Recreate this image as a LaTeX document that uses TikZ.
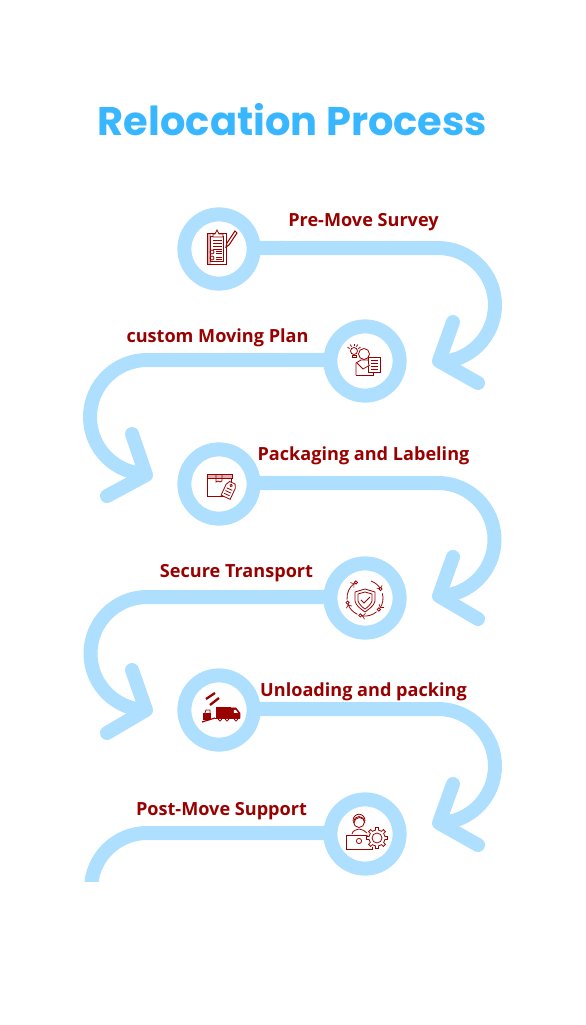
\documentclass[tikz,border=0pt]{standalone}
\usepackage{fontspec}
\setmainfont{Open Sans}
\newfontfamily\titlefont{Poppins}
\usetikzlibrary{positioning}
\definecolor{flowblue}{HTML}{AEDFFF}
\definecolor{titleblue}{HTML}{38B6FF}
\definecolor{labelred}{HTML}{990000}
\tikzset{
    stopring/.style={circle, draw=flowblue, fill=white, line width=7.97pt, minimum size=1.385cm, inner sep=0pt, outer sep=0pt},
    flow/.style={draw=flowblue, line width=7.97pt},
    flowhead/.style={draw=flowblue, line width=7.97pt, line cap=round, line join=round},
    steplabel/.style={text=labelred, font=\bfseries\fontsize{10.3}{12}\selectfont},
    icon/.style={draw=labelred, line width=0.45pt},
    iconfill/.style={fill=labelred, draw=labelred, line width=0.3pt},
}

\begin{document}
\begin{tikzpicture}[x=0.1cm,y=0.1cm,scale=0.2,yscale=-1]
    \useasboundingbox (0,0) rectangle (585,1025);

    \node[text=titleblue, font=\titlefont\bfseries\fontsize{22.75}{26}\selectfont] (title) at (292.5,120) {Relocation Process};

    % Stops
    \node[stopring] (survey) at (219,249) {};
    \node[stopring] (plan) at (365,361) {};
    \node[stopring] (packaging) at (219,484) {};
    \node[stopring] (transport) at (365,598) {};
    \node[stopring] (unloading) at (219,710) {};
    \node[stopring] (support) at (365,834) {};

    % Arrow tips
    \coordinate (tipA) at (439,361);
    \coordinate (tipB) at (146,475);
    \coordinate (tipC) at (439,596);
    \coordinate (tipD) at (146,710);
    \coordinate (tipE) at (439,823);

    % Right hand bends
    \draw[flow] (survey.east) ++(0,-1) -- (438,248) arc[start angle=-90, end angle=90, radius=57];
    \draw[flowhead] (453,322) -- (tipA) -- (478,383);

    \draw[flow] (packaging.east) ++(0,-1) -- (438,483) arc[start angle=-90, end angle=90, radius=56.5];
    \draw[flowhead] (453,557) -- (tipC) -- (478,619);

    \draw[flow] (unloading.east) ++(0,-1) -- (438,709) arc[start angle=-90, end angle=90, radius=57];
    \draw[flowhead] (453,784) -- (tipE) -- (478,845);

    % Left hand bends
    \draw[flow] (plan.west) ++(0,-1) -- (147,360) arc[start angle=-90, end angle=-270, radius=57];
    \draw[flowhead] (132,434) -- (tipB) -- (107,496);

    \draw[flow] (transport.west) ++(0,-1) -- (147,597) arc[start angle=-90, end angle=-270, radius=56.5];
    \draw[flowhead] (132,670) -- (tipD) -- (107,733);

    % Open end at the bottom
    \begin{scope}
        \clip (0,0) rectangle (585,881);
        \draw[flow] (support.west) ++(0,-1) -- (147,833) arc[start angle=-90, end angle=-180, radius=56];
    \end{scope}

    % Labels
    \node[steplabel] (surveytext) at (363.5,222) {Pre-Move Survey};
    \node[steplabel] (plantext) at (217.5,338) {custom Moving Plan};
    \node[steplabel] (packagingtext) at (363.5,456) {Packaging and Labeling};
    \node[steplabel] (transporttext) at (236.5,573) {Secure Transport};
    \node[steplabel] (unloadingtext) at (363.5,692) {Unloading and packing};
    \node[steplabel] (supporttext) at (221.5,811) {Post-Move Support};

    % Clipboard
    \begin{scope}[shift={(survey.center)}]
        \fill[labelred!30] (-12,-16) rectangle (-8,15);
        \draw[icon] (-12,-16) rectangle (7,15);
        \draw[icon] (-9,-13) rectangle (4,12);
        \draw[icon, fill=white] (-6,-15) -- (-4,-15) -- (-2,-19) -- (0,-15) -- (4,-15) -- (4,-12) -- (-6,-12) -- cycle;
        \foreach \yy in {-9,-6,-3,0} \draw[icon] (-6,\yy) -- (3,\yy);
        \foreach \yy in {3,9} {
            \draw[icon] (-7,\yy) circle (2);
            \draw[icon] (-3,\yy-1) -- (3,\yy-1);
            \draw[icon] (-3,\yy+1) -- (3,\yy+1);
        }
        \draw[icon, fill=white, line width=0.6pt] (8,-6) -- (16,-18) -- (18,-16) -- (10,-4) -- (7,-2) -- cycle;
    \end{scope}

    % Person with idea and paper
    \begin{scope}[shift={(plan.center)}]
        \draw[icon] (-11,-10) circle (3.5);
        \draw[icon] (-13,-6) -- (-9,-6) -- (-9,-4) -- (-13,-4) -- cycle;
        \foreach \ang in {-150,-120,-90,-60,-30} \draw[icon] (-11,-10) ++(\ang:5) -- ++(\ang:2.5);
        \draw[icon] (-1,-7) circle (5.5);
        \draw[icon] (-9,14) -- (-9,2) -- (-4,-1) -- (3,-1) -- (6,2);
        \draw[icon] (-9,14) -- (8,14) -- (8,10);
        \draw[icon, fill=white] (3,-4) rectangle (15,11);
        \foreach \yy in {-1,2,5,8} \draw[icon] (6,\yy) -- (13,\yy);
        \draw[icon, fill=white] (-8,2) -- (-2,8) -- (5,4);
    \end{scope}

    % Box with tag
    \begin{scope}[shift={(packaging.center)}]
        \fill[labelred!30] (-12,-10) rectangle (13,-6);
        \draw[icon] (-12,-10) rectangle (13,-6);
        \draw[icon] (-12,-6) -- (-12,12) -- (8,12);
        \draw[icon] (12,-6) -- (12,0);
        \draw[icon] (-3,-10) -- (-3,-2) -- (-1,-3) -- (1,-2) -- (3,-3) -- (3,-10);
        \begin{scope}[shift={(10,6)}, rotate=25]
            \draw[icon, fill=white] (-3,-8) -- (3,-8) -- (5,-4) -- (5,8) -- (-5,8) -- (-5,-4) -- cycle;
            \draw[icon] (0,-5) circle (1.2);
            \foreach \yy in {-1,2,5} \draw[icon] (-3,\yy) -- (3,\yy);
        \end{scope}
    \end{scope}

    % Shield in a cycle
    \begin{scope}[shift={(transport.center)}]
        \foreach \sa/\ea in {-70/-28,-15/35,50/100,115/160,175/235}
            \draw[icon, ->] (\sa:18) arc[start angle=\sa, end angle=\ea, radius=18];
        \foreach \ang in {-30,40,105,165,240}
            \draw[icon, fill=white] (\ang:18) circle (1.6);
        \draw[icon] (0,-9) -- (-10,-6) -- (-10,3) .. controls (-9,8) and (-4,11) .. (0,14) .. controls (4,11) and (9,8) .. (10,3) -- (10,-6) -- cycle;
        \draw[icon] (0,-6) -- (-7,-4) -- (-7,3) .. controls (-6,6) and (-3,9) .. (0,11) .. controls (3,9) and (6,6) .. (7,3) -- (7,-4) -- cycle;
        \draw[icon, line width=0.6pt] (-4,2) -- (-1,5) -- (5,-1);
    \end{scope}

    % Truck and forklift
    \begin{scope}[shift={(unloading.center)}]
        \draw[labelred, line width=1.3pt] (-13,-11) -- (-4,-17);
        \draw[labelred, line width=1.3pt] (-9,-5) -- (0,-12);
        \fill[iconfill] (-3,-3) rectangle (11,7);
        \fill[iconfill] (12,-2) -- (17,-2) -- (21,3) -- (21,8) -- (12,8) -- cycle;
        \fill[white] (15,0) -- (17,0) -- (19,3) -- (15,3) -- cycle;
        \fill[iconfill] (-16,3) rectangle (-9,9);
        \draw[icon] (-14,3) -- (-13,0) -- (-9,0) -- (-9,3);
        \draw[labelred, line width=0.7pt] (-17,12) -- (-4,8);
        \draw[labelred, line width=0.7pt] (-4,8.5) -- (21,8.5);
        \foreach \xx in {1,8,17} \draw[icon, fill=white] (\xx,9.5) circle (1.6);
    \end{scope}

    % Agent with gear
    \begin{scope}[shift={(support.center)}]
        \draw[icon] (-6,-12) circle (5.5);
        \draw[icon] (-11,-11) arc[start angle=180, end angle=360, radius=5.5];
        \draw[icon] (-12,-13) .. controls (-12,-22) and (0,-22) .. (0,-13);
        \draw[icon] (-13,0) .. controls (-12,-4) and (-9,-4) .. (-6,-5) .. controls (-3,-4) and (0,-4) .. (2,-1);
        \draw[icon] (-19,1) rectangle (7,15);
        \draw[icon] (-6,7) circle (2.6);
        \begin{scope}[shift={(12,4)}]
            \fill[white] (0,0) circle (10);
            \foreach \tooth in {0,45,...,315}
                \draw[icon] (\tooth-22.5:8) -- (\tooth-11:8) -- (\tooth-8:10.5) -- (\tooth+8:10.5) -- (\tooth+11:8) -- (\tooth+22.5:8);
            \draw[icon] (0,0) circle (5);
        \end{scope}
    \end{scope}
\end{tikzpicture}
\end{document}
